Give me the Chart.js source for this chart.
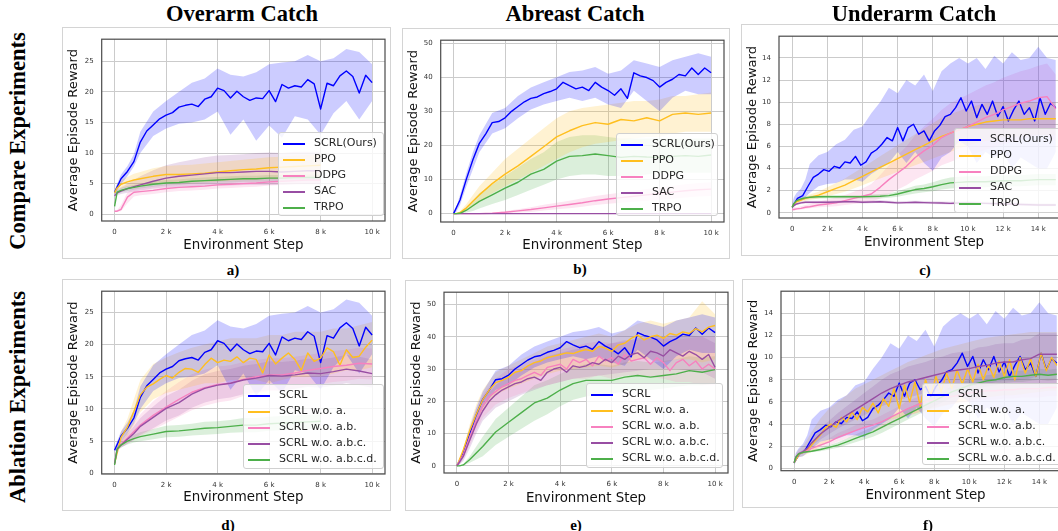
<!DOCTYPE html>
<html>
<head>
<meta charset="utf-8">
<script src="https://cdn.jsdelivr.net/npm/chart.js@4.4.1/dist/chart.umd.min.js"></script>
<style>
  body { margin: 0; background: #fff; }
  #page { position: relative; width: 1058px; height: 531px; overflow: hidden; background: #fff; }
  .frame { position: absolute; box-sizing: border-box; border: 1px solid #d4d4d4; }
  canvas { position: absolute; }
  .head { position: absolute; font: bold 22.5px 'Liberation Serif', 'Times New Roman', serif; line-height: 1; white-space: nowrap; color: #000; transform: translate(-50%, -50%); }
  .rowlab { position: absolute; font: bold 22.5px 'Liberation Serif', 'Times New Roman', serif; line-height: 1; white-space: nowrap; color: #000; transform: translate(-50%, -50%) rotate(-90deg); }
  .sub { position: absolute; font: bold 15px 'Liberation Serif', 'Times New Roman', serif; line-height: 1; color: #000; transform: translate(-50%, -50%); }
  .legend { position: absolute; box-sizing: border-box; background: rgba(255,255,255,0.8); border: 1px solid #d0d0d0; border-radius: 3px; }
  .legend .row { position: absolute; left: 0; height: 16px; line-height: 16px; font: 11px 'DejaVu Sans', sans-serif; color: #262626; white-space: nowrap; }
  .legend .swatch { position: absolute; left: 4px; top: 7px; width: 22px; height: 2px; }
  .legend .txt { position: absolute; left: 35px; top: 0; }
</style>
</head>
<body>
<div id="page"></div>
<script>
// x positions (environment steps)
const stepsFine10 = [0,250,500,750,1000,1250,1500,1750,2000,2250,2500,2750,3000,3250,3500,3750,4000,4250,4500,4750,5000,5250,5500,5750,6000,6250,6500,6750,7000,7250,7500,7750,8000,8250,8500,8750,9000,9250,9500,9750,10000];
const stepsCoarse10 = [0,100,250,500,750,1000,1500,2000,2500,3000,3500,4000,4500,5000,5500,6000,6500,7000,7500,8000,8500,9000,9500,10000];
const stepsFine15 = [0,300,600,900,1200,1500,1800,2100,2400,2700,3000,3300,3600,3900,4200,4500,4800,5100,5400,5700,6000,6300,6600,6900,7200,7500,7800,8100,8400,8700,9000,9300,9600,9900,10200,10500,10800,11100,11400,11700,12000,12300,12600,12900,13200,13500,13800,14100,14400,14700,15000];
const stepsCoarse15 = [0,100,250,500,750,1000,1500,2000,2500,3000,3500,4000,4500,5000,5500,6000,6500,7000,7500,8000,8500,9000,9500,10000,10500,11000,11500,12000,12500,13000,13500,14000,14500,15000];

// tick labels
const xTicks10 = [0,2000,4000,6000,8000,10000];
const xTicks15 = [0,2000,4000,6000,8000,10000,12000,14000];
const yTicks25 = [0,5,10,15,20,25];
const yTicks50 = [0,10,20,30,40,50];
const yTicks14 = [0,2,4,6,8,10,12,14];

const compareNames = ['SCRL(Ours)', 'PPO', 'DDPG', 'SAC', 'TRPO'];
const ablationNames = ['SCRL', 'SCRL w.o. a.', 'SCRL w.o. a.b.', 'SCRL w.o. a.b.c.', 'SCRL w.o. a.b.c.d.'];

// ---- Overarm catch (a) ----
const overSCRL = [3.6,5.8,7.0,8.6,11.8,13.6,14.6,15.6,16.2,16.6,17.5,17.8,18.0,17.6,18.8,19.2,20.6,20.2,19.0,20.1,19.2,18.6,19.0,18.9,20.2,18.4,21.2,20.6,21.0,20.8,22.0,21.3,17.2,21.4,21.0,22.6,23.4,22.5,19.8,22.7,21.5];
const overSCRLLo = [3.2,3.8,4.9,6.2,7.8,10.0,12.8,14.0,14.8,15.0,15.5,16.8,13.0,15.5,12.0,14.5,12.5,16.0,15.5,13.0,16.5,18.5,15.5,18.5];
const overSCRLHi = [4.0,5.0,6.5,7.9,9.8,13.5,16.8,18.5,20.0,21.5,22.2,23.8,22.8,22.5,23.2,24.5,24.8,25.0,26.0,25.0,25.5,27.0,26.5,24.5];
const overPPO = [3.5,4.3,4.9,5.3,5.6,5.8,6.2,6.5,6.5,6.6,6.7,6.9,7.1,7.3,7.4,7.6,7.7,7.8,7.9,8.0];
const overPPOLo = [3.2,3.8,4.2,4.5,4.6,4.7,5.0,5.2,5.2,5.2,5.3,5.4,5.5,5.6,5.7,5.8,5.8,5.9,6.0,6.0];
const overPPOHi = [3.8,4.8,5.6,6.1,6.6,6.9,7.5,7.9,8.0,8.1,8.3,8.5,8.7,8.9,9.1,9.3,9.4,9.6,9.7,9.8];
const overDDPG = [0.5,0.5,0.8,2.8,3.6,3.7,3.9,4.2,4.4,4.5,4.6,4.8,4.9,5.0,5.1,5.3,5.4,5.5,5.6,5.6];
const overDDPGLo = [0.4,0.4,0.5,1.8,2.9,3.1,3.3,3.6,3.8,3.9,4.0,4.2,4.3,4.4,4.5,4.7,4.8,4.9,5.0,5.0];
const overDDPGHi = [0.6,0.7,1.5,3.6,4.3,4.4,4.6,4.9,5.1,5.2,5.3,5.5,5.6,5.7,5.8,6.0,6.1,6.2,6.3,6.3];
const overSAC = [3.0,3.5,3.8,4.2,4.5,4.8,5.4,5.9,6.2,6.4,6.6,6.8,6.8,6.9,7.0,7.0,6.9,7.0,7.1,7.1];
const overSACLo = [2.8,3.1,3.3,3.5,3.7,3.9,4.2,4.4,4.5,4.6,4.6,4.7,4.7,4.8,4.8,4.8,4.8,4.9,4.9,4.9];
const overSACHi = [3.3,4.0,4.4,5.0,5.6,6.2,7.2,8.0,8.5,8.9,9.3,9.6,9.7,9.8,10.0,10.1,10.0,10.2,10.2,10.2];
const overTRPO = [1.3,3.6,3.9,4.2,4.4,4.6,4.9,5.1,5.2,5.4,5.5,5.6,5.7,5.8,5.8,5.9,5.9,6.0,6.0,6.0];
const overTRPOLo = [1.2,3.3,3.6,3.8,4.0,4.2,4.5,4.7,4.8,5.0,5.1,5.2,5.2,5.3,5.3,5.4,5.4,5.5,5.5,5.5];
const overTRPOHi = [1.5,3.9,4.3,4.6,4.8,5.0,5.4,5.6,5.7,5.9,6.0,6.1,6.2,6.3,6.3,6.4,6.4,6.5,6.5,6.5];

// ---- Abreast catch (b) ----
const abrSCRL = [0,4,10.2,15.8,20.6,23.4,26.7,27,28.1,30,31.4,32.8,33.8,34.2,35.2,35.8,36.6,38.5,37.5,36.6,37.1,36.1,38.5,37.1,36.1,34.7,36.6,33.8,41.3,40.4,39.9,39,37.1,38.5,39.4,40.8,40.4,42.7,40.8,42.7,41.3];
const abrSCRLLo = [0,0.5,2.5,8,13,18,23.5,25,28,30.5,32,33,34,33,34,32,31,36,33,30,34,36,35,35];
const abrSCRLHi = [0.3,1.8,5.5,12,18,23,29.5,31,34.5,37,38.5,40,41.5,42,43,41,42,45,44,43,45,46,47,46];
const abrPPO = [0,0,0.3,1.7,3.6,5.5,8.8,11.6,14.0,16.8,19.6,22.5,24.3,25.8,26.7,26.2,27.6,27.2,28.1,27.2,29.1,29.5,29.1,29.5];
const abrPPOLo = [0,0,0,0.8,2.0,3.5,6.0,8.0,10.0,12.0,14.0,16.0,18.0,19.5,20.5,21.0,21.5,22.0,22.5,22.5,23.5,24.0,24.0,24.0];
const abrPPOHi = [0,0.1,0.7,2.8,5.5,8.0,12.0,16.0,19.0,22.0,25.0,28.0,30.0,31.0,31.5,32.0,32.5,33.0,33.0,33.5,34.5,34.5,35.0,35.5];
const abrDDPG = [0,0,0,0,0,0,0.1,0.4,0.8,1.2,1.7,2.2,2.7,3.2,3.8,4.3,4.7,5.1,5.5,5.9,6.3,6.7,7.0,7.2];
const abrDDPGLo = [0,0,0,0,0,0,0,0.1,0.3,0.5,0.9,1.3,1.6,2.0,2.5,2.9,3.2,3.5,3.8,4.1,4.4,4.7,5.0,5.2];
const abrDDPGHi = [0,0,0,0,0,0,0.2,0.8,1.3,1.9,2.6,3.2,3.8,4.5,5.2,5.7,6.2,6.7,7.2,7.7,8.2,8.6,9.0,9.2];
const abrSAC = [0,0,0,0,0,0,0,0,0,0,0,0,0,0,0,0,0,0,0,0,0,0,0,0];
const abrTRPO = [0,0,0.1,1.0,2.3,3.6,5.5,7.5,9.2,11.6,13.0,15.4,16.8,17.0,17.5,17.0,16.5,16.8,16.6,16.5,16.8,17.0,16.8,17.2];
const abrTRPOLo = [0,0,0,0.3,0.8,1.5,2.8,4.0,5.5,7.0,8.5,10.0,11.0,11.5,11.5,11.0,11.0,11.0,11.5,12.0,12.0,12.0,12.0,12.0];
const abrTRPOHi = [0,0,0.2,1.8,3.8,6.0,8.5,11.0,13.5,16.0,18.0,21.0,22.5,23.0,23.0,22.5,22.0,22.0,22.0,22.0,22.0,22.0,22.0,22.0];

// ---- Underarm catch (c) ----
const undSCRL = [0.5,1.3,1.55,2.4,3.2,3.5,3.9,3.75,4.2,4.05,4.6,4.5,5.1,4.3,4.6,5.4,5.7,6.2,6.8,6.5,7.7,6.5,7.7,8.0,7.1,7.4,6.5,7.4,7.9,8.7,8.9,9.5,10.4,9.2,10.1,8.6,9.8,8.9,10.1,8.7,9.6,8.3,9.3,10.1,8.9,9.5,8.3,10.4,8.9,9.9,9.5];
const undSCRLLo = [0.3,0.7,1.0,1.1,1.4,1.8,2.4,2.6,2.7,3.0,3.0,2.8,3.5,4.0,4.5,5.5,4.5,5.5,4.5,3.8,5.0,5.5,6.5,6.0,4.5,5.5,5.0,5.5,4.0,5.0,4.5,4.0,4.0,5.5];
const undSCRLHi = [0.8,1.4,1.8,2.2,3.0,4.4,5.2,5.5,6.2,6.6,7.5,7.8,9.0,10.0,11.3,10.8,12.0,11.5,12.5,11.0,12.8,13.5,14.0,13.5,14.0,13.0,14.2,13.5,14.5,13.8,14.0,15.0,14.0,13.8];
const undPPO = [0.5,0.8,1.0,1.15,1.3,1.4,1.6,1.9,2.2,2.5,2.9,3.3,3.7,4.1,4.5,4.9,5.3,5.7,6.1,6.5,6.9,7.2,7.5,7.8,8.0,8.2,8.3,8.4,8.4,8.4,8.5,8.5,8.5,8.5];
const undPPOLo = [0.45,0.7,0.9,1.0,1.1,1.15,1.3,1.5,1.7,1.9,2.2,2.5,2.8,3.1,3.4,3.7,4.0,4.3,4.6,4.9,5.2,5.5,5.8,6.1,6.3,6.5,6.6,6.8,6.9,6.9,7.0,7.0,7.0,7.0];
const undPPOHi = [0.55,0.9,1.1,1.3,1.5,1.65,1.9,2.3,2.7,3.1,3.6,4.1,4.6,5.1,5.6,6.1,6.6,7.1,7.6,8.1,8.6,8.9,9.2,9.5,9.7,9.9,10.0,10.0,10.0,10.0,10.0,10.0,10.0,10.0];
const undDDPG = [0.3,0.3,0.35,0.4,0.5,0.55,0.7,0.8,0.9,1.1,1.3,1.5,1.7,2.3,3.0,3.6,4.2,5.0,5.6,6.1,6.8,7.2,7.5,7.8,8.2,8.6,8.9,9.3,9.6,9.9,10.1,10.4,10.5,9.4];
const undDDPGLo = [0.2,0.2,0.25,0.3,0.35,0.4,0.5,0.55,0.6,0.7,0.8,0.9,1.0,1.3,1.7,2.1,2.5,3.0,3.4,3.8,4.3,4.6,4.9,5.1,5.4,5.7,5.9,6.2,6.4,6.6,6.8,7.0,7.0,6.5];
const undDDPGHi = [0.4,0.5,0.5,0.6,0.7,0.8,1.0,1.2,1.4,1.6,1.9,2.2,2.6,3.4,4.3,5.2,6.0,7.0,7.8,8.5,9.3,9.9,10.3,10.7,11.1,11.5,11.8,12.2,12.5,12.8,13.0,13.3,13.5,12.5];
const undSAC = [0.5,0.65,0.8,0.9,0.95,0.95,0.95,0.95,0.97,1.0,1.0,0.95,0.97,1.0,0.95,0.9,0.92,0.95,0.92,0.9,0.88,0.85,0.88,0.9,0.87,0.85,0.83,0.8,0.78,0.75,0.73,0.7,0.7,0.7];
const undSACLo = [0.4,0.55,0.7,0.8,0.85,0.85,0.85,0.85,0.87,0.9,0.9,0.85,0.87,0.9,0.85,0.8,0.82,0.85,0.82,0.8,0.78,0.75,0.78,0.8,0.77,0.75,0.73,0.7,0.68,0.65,0.63,0.6,0.6,0.6];
const undSACHi = [0.6,0.8,0.95,1.05,1.1,1.1,1.1,1.1,1.12,1.15,1.15,1.1,1.12,1.15,1.1,1.05,1.07,1.1,1.07,1.05,1.03,1.0,1.03,1.05,1.02,1.0,0.98,0.95,0.93,0.9,0.88,0.85,0.85,0.85];
const undTRPO = [0.5,0.85,1.1,1.25,1.35,1.4,1.45,1.45,1.45,1.45,1.45,1.45,1.47,1.5,1.55,1.7,1.9,2.1,2.2,2.35,2.55,2.7,2.75,2.8,2.8,2.8,2.85,2.9,2.9,2.9,2.95,3.0,3.0,3.0];
const undTRPOLo = [0.45,0.75,0.95,1.1,1.2,1.25,1.3,1.3,1.3,1.3,1.3,1.3,1.3,1.3,1.35,1.45,1.6,1.75,1.85,1.95,2.1,2.2,2.25,2.3,2.3,2.3,2.35,2.4,2.4,2.4,2.45,2.5,2.5,2.5];
const undTRPOHi = [0.55,0.95,1.25,1.4,1.5,1.55,1.6,1.6,1.6,1.6,1.6,1.6,1.65,1.7,1.75,1.95,2.2,2.45,2.55,2.75,3.0,3.2,3.25,3.3,3.3,3.3,3.35,3.4,3.4,3.4,3.45,3.5,3.5,3.5];

// ---- Overarm ablation (d) ----
const overNoA = [1.5,5.6,7.2,9.6,12.2,13.4,13.9,14.6,15.2,14.8,15.7,16.3,16.2,15.7,16.9,17.9,17.2,17.6,17.4,18.1,17.2,17.9,17.7,15.6,18.4,17.0,17.9,18.7,17.7,16.0,18.7,17.4,17.9,19.5,18.9,16.8,19.2,18.0,18.2,19.6,20.7];
const overNoALo = [1.3,3.8,4.8,5.8,7.5,9.5,11.5,12.5,13.0,13.5,14.0,14.0,14.5,14.5,14.5,14.0,14.5,15.0,15.0,15.0,15.5,16.0,16.0,16.5];
const overNoAHi = [1.7,4.6,6.5,8.5,11.5,14.5,17.0,18.0,18.8,19.5,20.0,20.5,21.0,21.0,21.0,21.5,21.5,22.0,22.0,22.0,22.5,22.5,23.0,23.5];
const overNoAB = [1.5,3.8,4.5,5.5,6.5,7.5,9.0,10.3,11.5,12.6,13.3,13.8,14.0,14.6,15.0,15.3,15.3,15.6,16.0,16.3,16.6,16.8,17.1,17.0];
const overNoABLo = [1.3,3.5,4.0,4.6,5.2,5.8,6.8,7.8,8.8,9.8,10.5,11.0,11.3,12.0,12.4,12.8,12.8,13.2,13.6,13.9,14.2,14.4,14.7,14.6];
const overNoABHi = [1.7,4.1,5.0,6.4,7.8,9.2,11.2,12.8,14.2,15.4,16.1,16.6,16.8,17.3,17.6,17.9,17.9,18.1,18.4,18.7,19.0,19.2,19.5,19.4];
const overNoABC = [1.5,3.8,4.4,5.3,6.2,7.3,8.7,10.1,11.0,12.3,13.2,13.7,14.0,14.5,14.8,15.2,15.1,15.3,15.6,15.5,15.8,16.2,15.9,15.5];
const overNoABCLo = [1.3,3.5,4.0,4.6,5.2,6.0,7.0,8.2,9.0,10.2,11.0,11.5,11.8,12.3,12.6,13.0,12.9,13.1,13.4,13.3,13.6,14.0,13.7,13.3];
const overNoABCHi = [1.7,4.1,4.9,6.1,7.3,8.6,10.4,12.0,13.0,14.4,15.4,15.9,16.2,16.7,17.0,17.4,17.3,17.5,17.8,17.7,18.0,18.4,18.1,17.7];
const overNoABCD = [1.3,3.8,4.4,5.0,5.4,5.7,6.1,6.5,6.6,6.8,7.0,7.1,7.3,7.5,7.5,7.7,7.8,7.9,8.0,8.1];
const overNoABCDLo = [1.2,3.5,4.0,4.5,4.8,5.0,5.3,5.6,5.7,5.9,6.0,6.1,6.3,6.4,6.4,6.6,6.7,6.8,6.9,7.0];
const overNoABCDHi = [1.4,4.1,4.8,5.5,6.0,6.4,6.9,7.4,7.5,7.7,8.0,8.1,8.3,8.6,8.6,8.8,8.9,9.0,9.1,9.2];

// ---- Abreast ablation (e) ----
const abrNoA = [0,5.0,11.0,16.0,20.5,23.5,25.8,26.5,27.5,29.0,29.5,31.0,32.0,32.5,33.5,34.0,34.5,35.0,34.8,35.5,36.0,35.5,37.0,36.5,35.5,37.5,38.0,39.5,40.5,39.0,40.0,40.5,39.5,41.0,40.5,41.5,41.0,42.5,41.5,43.0,43.5];
const abrNoALo = [0,0.5,2.5,8,12.5,17,22,24,25.5,27,28.5,29.5,30,30.5,31,30.5,31.5,33,33,32,33,33,32,33];
const abrNoAHi = [0.2,1.5,5.5,13,19,23.5,29,31,33,35,37,38,39,40,41,40,42,44,45,44,45,46,51,47];
const abrNoAB = [0,3.5,9.0,14.0,18.5,21.5,23.0,24.5,25.5,26.5,27.0,28.0,29.0,28.0,30.5,31.0,31.5,30.0,33.0,32.0,33.0,31.0,34.0,32.5,33.5,31.5,34.5,32.5,33.0,33.5,31.5,33.5,32.0,29.5,32.0,33.0,31.0,32.5,30.0,31.5,30.0];
const abrNoABLo = [0,0.5,2,6.5,11,15,19,21,22.5,24,25,26,27,27,28,27,28,28,27.5,27,26,26,25,25];
const abrNoABHi = [0.2,1.2,4.5,11,17,22,27,30,31.5,33,35,36,37,38,38.5,38,39,39,39.5,39.5,39,39.5,40,40];
const abrNoABC = [0,3.0,8.0,13.0,17.0,20.0,22.0,23.5,24.5,25.5,26.0,27.0,27.5,26.5,29.0,30.0,30.5,29.0,31.0,30.5,31.0,32.0,31.5,33.0,32.0,34.0,33.0,34.5,35.0,33.5,35.5,35.0,34.0,36.0,35.0,34.0,35.5,34.5,33.0,34.5,30.5];
const abrNoABCLo = [0,0.4,1.5,5.5,10,14,18,20,22,23.5,25,26,27,27.5,28,28.5,29,29.5,30,30,30,29.5,29,27];
const abrNoABCHi = [0.2,1.0,4.0,10.5,16,20.5,25,28,30,32,34,35,36,36.5,37,38,38.5,39.5,40,40,40.5,40.5,40,38];
const abrNoABCD = [0,0,0.3,2.0,4.0,6.0,10.5,13.5,16.5,19.5,21.0,23.5,25.5,26.5,26.5,26.5,27.5,28.0,27.5,28.0,28.5,29.5,29.0,29.8];
const abrNoABCDLo = [0,0,0.1,1.0,2.0,3.0,6.5,9.0,11.5,14.0,16.0,18.5,20.5,21.5,22.0,22.5,23.0,23.5,23.5,24.0,24.5,25.0,25.0,25.5];
const abrNoABCDHi = [0,0.1,0.6,3.0,6.0,9.0,14.5,18.0,21.5,25.0,26.5,28.5,30.5,31.5,31.5,31.0,32.0,32.5,32.0,32.5,33.0,34.0,33.5,34.0];

// ---- Underarm ablation (f) ----
const undNoA = [0.5,1.3,1.5,1.9,2.5,3.0,3.7,4.0,3.7,4.6,4.2,5.1,4.4,5.5,5.1,5.9,5.0,6.3,5.6,7.2,5.4,7.5,6.0,7.8,5.6,8.0,6.6,8.3,6.9,8.6,7.2,8.9,7.6,9.0,7.8,9.4,8.0,9.3,8.2,9.7,8.3,9.8,8.0,10.0,8.6,9.9,8.3,10.4,8.8,10.0,9.3];
const undNoALo = [0.4,0.8,1.0,1.1,1.3,1.5,2.0,2.4,2.8,3.1,3.4,3.6,3.9,4.2,4.4,4.6,4.8,5.0,5.2,5.4,5.6,5.8,6.0,6.1,6.3,6.4,6.5,6.6,6.6,6.7,6.8,6.9,7.0,7.0];
const undNoAHi = [0.6,1.3,1.7,2.0,2.6,3.3,4.5,5.4,6.0,6.6,7.2,7.6,8.0,8.4,8.8,9.2,9.6,9.9,10.2,10.5,10.8,11.0,11.2,11.4,11.6,11.8,11.9,12.0,12.1,12.2,12.3,12.3,12.3,12.3];
const undNoAB = [0.5,1.0,1.3,1.5,1.6,1.8,2.1,2.4,2.8,3.1,3.4,3.7,3.9,4.2,4.6,5.0,5.4,5.7,6.0,6.2,6.4,6.5,6.6,6.8,6.9,7.0,7.0,7.1,7.1,7.2,7.2,7.2,7.3,7.3];
const undNoABLo = [0.45,0.9,1.2,1.35,1.45,1.6,1.85,2.1,2.4,2.7,2.9,3.2,3.4,3.6,4.0,4.4,4.7,5.0,5.3,5.5,5.7,5.8,5.9,6.0,6.1,6.2,6.2,6.3,6.3,6.4,6.4,6.4,6.5,6.5];
const undNoABHi = [0.55,1.1,1.4,1.65,1.75,2.0,2.35,2.7,3.2,3.5,3.9,4.2,4.4,4.8,5.2,5.6,6.1,6.4,6.7,6.9,7.1,7.2,7.3,7.6,7.7,7.8,7.8,7.9,7.9,8.0,8.0,8.0,8.1,8.1];
const undNoABC = [0.5,1.0,1.3,1.5,1.8,2.3,3.1,3.7,4.3,4.8,5.3,5.8,6.3,6.8,7.2,7.5,7.8,8.0,8.2,8.4,8.6,8.8,8.9,9.0,9.2,9.3,9.5,9.6,9.6,9.8,9.9,10.3,10.3,10.3];
const undNoABCLo = [0.45,0.9,1.2,1.35,1.6,2.0,2.6,3.1,3.6,4.0,4.4,4.8,5.2,5.6,5.9,6.2,6.4,6.6,6.8,6.9,7.1,7.2,7.3,7.4,7.5,7.6,7.8,7.9,7.9,8.0,8.1,8.4,8.4,8.4];
const undNoABCHi = [0.55,1.1,1.4,1.65,2.0,2.6,3.6,4.3,5.0,5.6,6.2,6.8,7.4,8.0,8.5,8.8,9.2,9.4,9.6,9.9,10.1,10.4,10.5,10.6,10.9,11.0,11.2,11.3,11.3,11.6,11.7,12.2,12.2,12.2];
const undNoABCD = [0.5,1.0,1.3,1.45,1.5,1.55,1.7,1.9,2.1,2.4,2.7,3.0,3.3,3.7,4.1,4.5,4.9,5.3,5.7,6.1,6.5,6.9,7.2,7.5,7.7,7.9,8.0,8.2,8.3,8.3,8.4,8.5,8.4,8.5];
const undNoABCDLo = [0.45,0.9,1.2,1.35,1.4,1.45,1.55,1.7,1.85,2.1,2.35,2.6,2.85,3.2,3.6,4.0,4.4,4.8,5.2,5.6,6.0,6.4,6.7,7.0,7.2,7.4,7.5,7.7,7.8,7.8,7.9,8.0,7.9,8.0];
const undNoABCDHi = [0.55,1.1,1.4,1.55,1.6,1.65,1.85,2.1,2.35,2.7,3.05,3.4,3.75,4.2,4.6,5.0,5.4,5.8,6.2,6.6,7.0,7.4,7.7,8.0,8.2,8.4,8.5,8.7,8.8,8.8,8.9,9.0,8.9,9.0];

const BLUE = '#0000ff', ORANGE = '#ffbf1f', PINK = '#f781bf', PURPLE = '#984ea3', GREEN = '#4daf4a';

function fade(hex, a) {
    const n = parseInt(hex.slice(1), 16);
    return `rgba(${(n >> 16) & 255}, ${(n >> 8) & 255}, ${n & 255}, ${a})`;
}

function pairs(xs, ys) {
    return ys.map((v, i) => ({ x: xs[i], y: v }));
}

// frame = outer image box, area = plot box (page px)
const panels = [
    { frame: [62, 27, 329, 232], area: [101.7, 33, 385, 221], xTitleY: 246,
      x: [-500, 10500], y: [-1.1, 28.6], xTicks: xTicks10, yTicks: yTicks25, legend: [278, 132, 106, 84], names: compareNames,
      series: [
        { color: BLUE, xs: stepsFine10, ys: overSCRL, lo: overSCRLLo, hi: overSCRLHi },
        { color: ORANGE, xs: stepsCoarse10, ys: overPPO, lo: overPPOLo, hi: overPPOHi },
        { color: PINK, xs: stepsCoarse10, ys: overDDPG, lo: overDDPGLo, hi: overDDPGHi },
        { color: PURPLE, xs: stepsCoarse10, ys: overSAC, lo: overSACLo, hi: overSACHi },
        { color: GREEN, xs: stepsCoarse10, ys: overTRPO, lo: overTRPOLo, hi: overTRPOHi } ] },
    { frame: [402, 28, 328, 231], area: [440.7, 33, 724, 222], xTitleY: 246,
      x: [-500, 10500], y: [-2.45, 50.85], xTicks: xTicks10, yTicks: yTicks50, legend: [616, 133, 102, 83], names: compareNames,
      series: [
        { color: BLUE, xs: stepsFine10, ys: abrSCRL, lo: abrSCRLLo, hi: abrSCRLHi },
        { color: ORANGE, xs: stepsCoarse10, ys: abrPPO, lo: abrPPOLo, hi: abrPPOHi },
        { color: PINK, xs: stepsCoarse10, ys: abrDDPG, lo: abrDDPGLo, hi: abrDDPGHi },
        { color: PURPLE, xs: stepsCoarse10, ys: abrSAC },
        { color: GREEN, xs: stepsCoarse10, ys: abrTRPO, lo: abrTRPOLo, hi: abrTRPOHi } ] },
    { frame: [741, 24, 334, 232], area: [779, 31, 1069, 218], xTitleY: 242.5,
      x: [-750, 15750], y: [-0.47, 15.96], xTicks: xTicks15, yTicks: yTicks14, legend: [954, 128, 120, 85], names: compareNames,
      series: [
        { color: BLUE, xs: stepsFine15, ys: undSCRL, lo: undSCRLLo, hi: undSCRLHi },
        { color: ORANGE, xs: stepsCoarse15, ys: undPPO, lo: undPPOLo, hi: undPPOHi },
        { color: PINK, xs: stepsCoarse15, ys: undDDPG, lo: undDDPGLo, hi: undDDPGHi },
        { color: PURPLE, xs: stepsCoarse15, ys: undSAC, lo: undSACLo, hi: undSACHi },
        { color: GREEN, xs: stepsCoarse15, ys: undTRPO, lo: undTRPOLo, hi: undTRPOHi } ] },
    { frame: [62, 279, 329, 232], area: [101.7, 285.7, 385, 474], xTitleY: 497.5,
      x: [-500, 10500], y: [-0.1, 28.3], xTicks: xTicks10, yTicks: yTicks25, legend: [243, 384, 141, 85], names: ablationNames,
      series: [
        { color: BLUE, xs: stepsFine10, ys: overSCRL, lo: overSCRLLo, hi: overSCRLHi },
        { color: ORANGE, xs: stepsFine10, ys: overNoA, lo: overNoALo, hi: overNoAHi },
        { color: PINK, xs: stepsCoarse10, ys: overNoAB, lo: overNoABLo, hi: overNoABHi },
        { color: PURPLE, xs: stepsCoarse10, ys: overNoABC, lo: overNoABCLo, hi: overNoABCHi },
        { color: GREEN, xs: stepsCoarse10, ys: overNoABCD, lo: overNoABCDLo, hi: overNoABCDHi } ] },
    { frame: [405, 280, 329, 231], area: [444, 285.7, 728, 473], xTitleY: 499,
      x: [-500, 10500], y: [-2.2, 53.8], xTicks: xTicks10, yTicks: yTicks50, legend: [586, 383, 137, 85], names: ablationNames,
      series: [
        { color: BLUE, xs: stepsFine10, ys: abrSCRL, lo: abrSCRLLo, hi: abrSCRLHi },
        { color: ORANGE, xs: stepsFine10, ys: abrNoA, lo: abrNoALo, hi: abrNoAHi },
        { color: PINK, xs: stepsFine10, ys: abrNoAB, lo: abrNoABLo, hi: abrNoABHi },
        { color: PURPLE, xs: stepsFine10, ys: abrNoABC, lo: abrNoABCLo, hi: abrNoABCHi },
        { color: GREEN, xs: stepsCoarse10, ys: abrNoABCD, lo: abrNoABCDLo, hi: abrNoABCDHi } ] },
    { frame: [742, 279, 334, 229], area: [781, 283, 1070, 470.7], xTitleY: 495.3,
      x: [-750, 15750], y: [-0.21, 15.99], xTicks: xTicks15, yTicks: yTicks14, legend: [922, 383, 140, 82], names: ablationNames,
      series: [
        { color: BLUE, xs: stepsFine15, ys: undSCRL, lo: undSCRLLo, hi: undSCRLHi },
        { color: ORANGE, xs: stepsFine15, ys: undNoA, lo: undNoALo, hi: undNoAHi },
        { color: PINK, xs: stepsCoarse15, ys: undNoAB, lo: undNoABLo, hi: undNoABHi },
        { color: PURPLE, xs: stepsCoarse15, ys: undNoABC, lo: undNoABCLo, hi: undNoABCHi },
        { color: GREEN, xs: stepsCoarse15, ys: undNoABCD, lo: undNoABCDLo, hi: undNoABCDHi } ] }
];

// draws the four spines around the plot box
const spines = {
    id: 'spines',
    afterDatasetsDraw(chart) {
        const { ctx, chartArea: a } = chart;
        ctx.save();
        ctx.strokeStyle = '#4a4a4a';
        ctx.lineWidth = 1.2;
        ctx.strokeRect(a.left, a.top, a.right - a.left, a.bottom - a.top);
        ctx.restore();
    }
};

const page = document.getElementById('page');

function addDiv(cls, text, left, top) {
    const d = document.createElement('div');
    d.className = cls;
    d.textContent = text;
    d.style.left = left + 'px';
    d.style.top = top + 'px';
    page.appendChild(d);
    return d;
}

function makePanel(p) {
    const [fx, fy, fw, fh] = p.frame;
    const [l, t, r, b] = p.area;

    const frame = document.createElement('div');
    frame.className = 'frame';
    Object.assign(frame.style, { left: fx + 'px', top: fy + 'px', width: fw + 'px', height: fh + 'px' });
    page.appendChild(frame);

    const canvas = document.createElement('canvas');
    canvas.width = fw;
    canvas.height = fh;
    canvas.style.left = fx + 'px';
    canvas.style.top = fy + 'px';
    page.appendChild(canvas);

    const pad = { left: 4, top: t - fy, right: fx + fw - r, bottom: fy + fh - (p.xTitleY + 8) };
    const yAxisW = l - fx - pad.left;
    const xAxisH = fy + fh - pad.bottom - b;

    const datasets = [];
    p.series.forEach(s => {
        if (!s.lo) return;
        datasets.push({ data: pairs(stepsCoarseFor(s), s.lo), borderColor: 'transparent', borderWidth: 0, pointRadius: 0, fill: false, order: 100 });
        datasets.push({ data: pairs(stepsCoarseFor(s), s.hi), borderColor: 'transparent', borderWidth: 0, pointRadius: 0, fill: '-1', backgroundColor: fade(s.color, 0.2), order: 100 });
    });
    p.series.forEach((s, i) => {
        datasets.push({ label: p.names[i], data: pairs(s.xs, s.ys), borderColor: s.color, borderWidth: 1.4, pointRadius: 0, fill: false, borderJoinStyle: 'round', order: 50 - i });
    });

    const tickFont = { family: 'DejaVu Sans', size: 7 };
    new Chart(canvas, {
        type: 'line',
        data: { datasets },
        options: {
            responsive: false,
            animation: false,
            events: [],
            layout: { padding: pad },
            plugins: { legend: { display: false }, tooltip: { enabled: false }, filler: { drawTime: 'beforeDatasetsDraw' } },
            scales: {
                x: {
                    type: 'linear', min: p.x[0], max: p.x[1],
                    afterBuildTicks: sc => { sc.ticks = p.xTicks.map(v => ({ value: v })); },
                    afterFit: sc => { sc.height = xAxisH; },
                    ticks: { callback: v => v === 0 ? '0' : (v / 1000) + ' k', font: tickFont, color: '#333', padding: 7, maxRotation: 0, autoSkip: false },
                    grid: { color: '#cbcbcb', lineWidth: 1, drawTicks: false },
                    border: { display: false },
                    title: { display: true, text: 'Environment Step', font: { family: 'DejaVu Sans', size: 13.4 }, color: '#111', padding: 0 }
                },
                y: {
                    type: 'linear', min: p.y[0], max: p.y[1],
                    afterBuildTicks: sc => { sc.ticks = p.yTicks.map(v => ({ value: v })); },
                    afterFit: sc => { sc.width = yAxisW; },
                    ticks: { callback: v => String(v), font: tickFont, color: '#333', padding: 8, autoSkip: false },
                    grid: { color: '#cbcbcb', lineWidth: 1, drawTicks: false },
                    border: { display: false },
                    title: { display: true, text: 'Average Episode Reward', font: { family: 'DejaVu Sans', size: 13.1 }, color: '#111', padding: 0 }
                }
            }
        },
        plugins: [spines]
    });

    // legend inside the plot, lower right
    const [gx, gy, gw, gh] = p.legend;
    const box = document.createElement('div');
    box.className = 'legend';
    Object.assign(box.style, { left: gx + 'px', top: gy + 'px', width: gw + 'px', height: gh + 'px' });
    p.series.forEach((s, i) => {
        const row = document.createElement('div');
        row.className = 'row';
        row.style.top = (2.5 + i * 16) + 'px';
        row.innerHTML = `<span class="swatch" style="background:${s.color}"></span><span class="txt"></span>`;
        row.querySelector('.txt').textContent = p.names[i];
        box.appendChild(row);
    });
    page.appendChild(box);
}

function stepsCoarseFor(s) {
    return (s.xs === stepsFine15 || s.xs === stepsCoarse15) ? stepsCoarse15 : stepsCoarse10;
}

panels.forEach(makePanel);

addDiv('head', 'Overarm Catch', 242, 14);
addDiv('head', 'Abreast Catch', 575, 14);
addDiv('head', 'Underarm Catch', 914, 14);
addDiv('rowlab', 'Compare Experiments', 17.5, 141);
addDiv('rowlab', 'Ablation Experiments', 17.5, 397);
addDiv('sub', 'a)', 233, 270);
addDiv('sub', 'b)', 580, 269);
addDiv('sub', 'c)', 925, 270);
addDiv('sub', 'd)', 228, 525);
addDiv('sub', 'e)', 576, 525);
addDiv('sub', 'f)', 928, 525);
</script>
</body>
</html>
